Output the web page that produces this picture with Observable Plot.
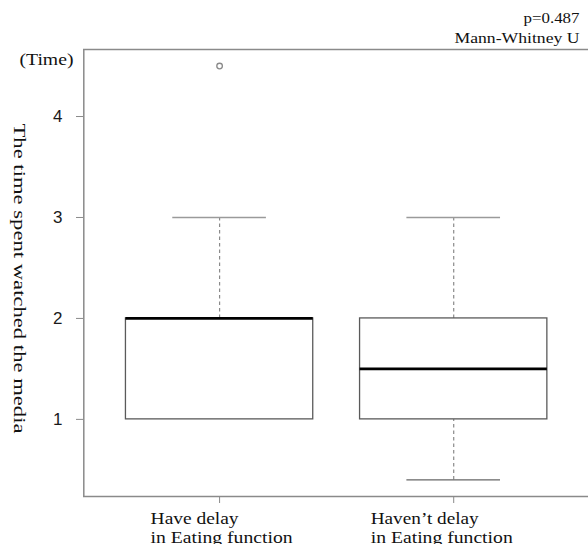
<!DOCTYPE html>
<html><head><meta charset="utf-8">
<script src="https://cdn.jsdelivr.net/npm/d3@7"></script>
<script src="https://cdn.jsdelivr.net/npm/@observablehq/plot@0.6"></script>
<style>body{margin:0;background:#fff} svg{display:block}</style>
</head><body><div id="chart"></div>
<script>
// ---- data ----
const groups = ["Have delay\nin Eating function", "Haven’t delay\nin Eating function"];
const q1 = [1, 1];
const medians = [2, 1.5];
const q3 = [2, 2];
const whiskerLow = [1, 0.4];
const whiskerHigh = [3, 3];
const outlierGroup = [0];
const outlierValue = [4.5];
const yTicks = [1, 2, 3, 4];
const pText = "p=0.487";
const testText = "Mann-Whitney U";
const yTitle = "The time spent watched the media";
const yUnit = "(Time)";

// ---- styling constants ----
const boxwex = 0.8, stapleHalf = 0.2;
const labelDx = [-69, -83];
const serif = "Liberation Serif, Times New Roman, serif";
const sans = "Liberation Sans, Arial, sans-serif";
const textWidths = {
  "Have delay": 88, "Haven’t delay": 108, "in Eating function": 142,
  [yTitle]: 310, [yUnit]: 54, [pText]: 56, [testText]: 125
};

const boxes = groups.map((g, i) => ({
  pos: i + 1, label: g, line1: g.split("\n")[0], line2: g.split("\n")[1],
  q1: q1[i], med: medians[i], q3: q3[i], lo: whiskerLow[i], hi: whiskerHigh[i]
}));
const outliers = outlierGroup.map((g, i) => ({pos: g + 1, v: outlierValue[i]}));
const lowWhiskers = boxes.filter(d => d.lo < d.q1);

const xDomain = [0.42, 2.58];
const yDomain = [0.236, 4.664];

const chart = Plot.plot({
  width: 588, height: 544,
  marginTop: 49, marginBottom: 48, marginLeft: 83, marginRight: 0,
  x: {type: "linear", domain: xDomain, range: [83.3, 589], axis: null},
  y: {domain: yDomain, range: [496, 49], axis: null},
  style: {fontFamily: serif, background: "#fff", color: "#111"},
  marks: [
    // frame (top, left, bottom)
    Plot.ruleY([yDomain[1]], {stroke: "#8a8a8a", strokeWidth: 1.5}),
    Plot.ruleY([yDomain[0]], {stroke: "#8a8a8a", strokeWidth: 1.5}),
    Plot.ruleX([xDomain[0]], {stroke: "#8a8a8a", strokeWidth: 1.5}),
    // whiskers
    Plot.ruleX(boxes, {x: "pos", y1: "q3", y2: "hi", stroke: "#8a8a8a", strokeWidth: 1.2, strokeDasharray: "3.5,3"}),
    Plot.ruleX(lowWhiskers, {x: "pos", y1: "lo", y2: "q1", stroke: "#8a8a8a", strokeWidth: 1.2, strokeDasharray: "3.5,3"}),
    Plot.ruleY(boxes, {y: "hi", x1: d => d.pos - stapleHalf, x2: d => d.pos + stapleHalf, stroke: "#9a9a9a", strokeWidth: 1.3}),
    Plot.ruleY(lowWhiskers, {y: "lo", x1: d => d.pos - stapleHalf, x2: d => d.pos + stapleHalf, stroke: "#666", strokeWidth: 1.3}),
    // boxes
    Plot.rect(boxes, {x1: d => d.pos - boxwex / 2, x2: d => d.pos + boxwex / 2, y1: "q1", y2: "q3", fill: "white", stroke: "#5a5a5a", strokeWidth: 1.3}),
    // medians
    Plot.ruleY(boxes, {y: "med", x1: d => d.pos - boxwex / 2, x2: d => d.pos + boxwex / 2, stroke: "#000", strokeWidth: 2.8}),
    // outliers
    Plot.dot(outliers, {x: "pos", y: "v", r: 2.8, stroke: "#8a8a8a", strokeWidth: 1.3, fill: "none"}),
    // y axis
    Plot.axisY(yTicks, {anchor: "left", tickSize: 7, tickPadding: 14, stroke: "#8a8a8a", fill: "#1a1a1a", fontFamily: sans, fontSize: 17, tickFormat: d => String(d), label: null}),
    // x axis ticks
    Plot.axisX([1, 2], {anchor: "bottom", tickSize: 7, stroke: "#8a8a8a", tickFormat: () => "", label: null}),
    // x labels
    ...boxes.map((b, i) => Plot.text([b], {x: "pos", frameAnchor: "bottom", text: "line1", textAnchor: "start", lineAnchor: "bottom", dx: labelDx[i], dy: 27, fontSize: 16, fill: "#111"})),
    ...boxes.map((b, i) => Plot.text([b], {x: "pos", frameAnchor: "bottom", text: "line2", textAnchor: "start", lineAnchor: "bottom", dx: labelDx[i], dy: 46, fontSize: 16, fill: "#111"})),
    // annotations
    Plot.text([yUnit], {frameAnchor: "top-left", textAnchor: "end", lineAnchor: "bottom", dx: -10, dy: 15, fontSize: 16, fill: "#111"}),
    Plot.text([pText], {frameAnchor: "top-right", textAnchor: "end", lineAnchor: "bottom", dx: -9, dy: -27, fontSize: 15, fill: "#111"}),
    Plot.text([testText], {frameAnchor: "top-right", textAnchor: "end", lineAnchor: "bottom", dx: -9, dy: -7, fontSize: 15, fill: "#111"}),
    Plot.text([yTitle], {frameAnchor: "left", rotate: 90, textAnchor: "middle", lineAnchor: "middle", dx: -64, dy: 5.5, fontSize: 16, fill: "#111"})
  ]
});

document.getElementById("chart").appendChild(chart);
// widen serif text to match the reference's wide Mincho-style glyphs
d3.select(chart).selectAll("text").each(function () {
  const t = this.textContent;
  if (textWidths[t] !== undefined && !this.querySelector("tspan")) {
    this.setAttribute("textLength", textWidths[t]);
    this.setAttribute("lengthAdjust", "spacingAndGlyphs");
  }
});
</script>
</body></html>
